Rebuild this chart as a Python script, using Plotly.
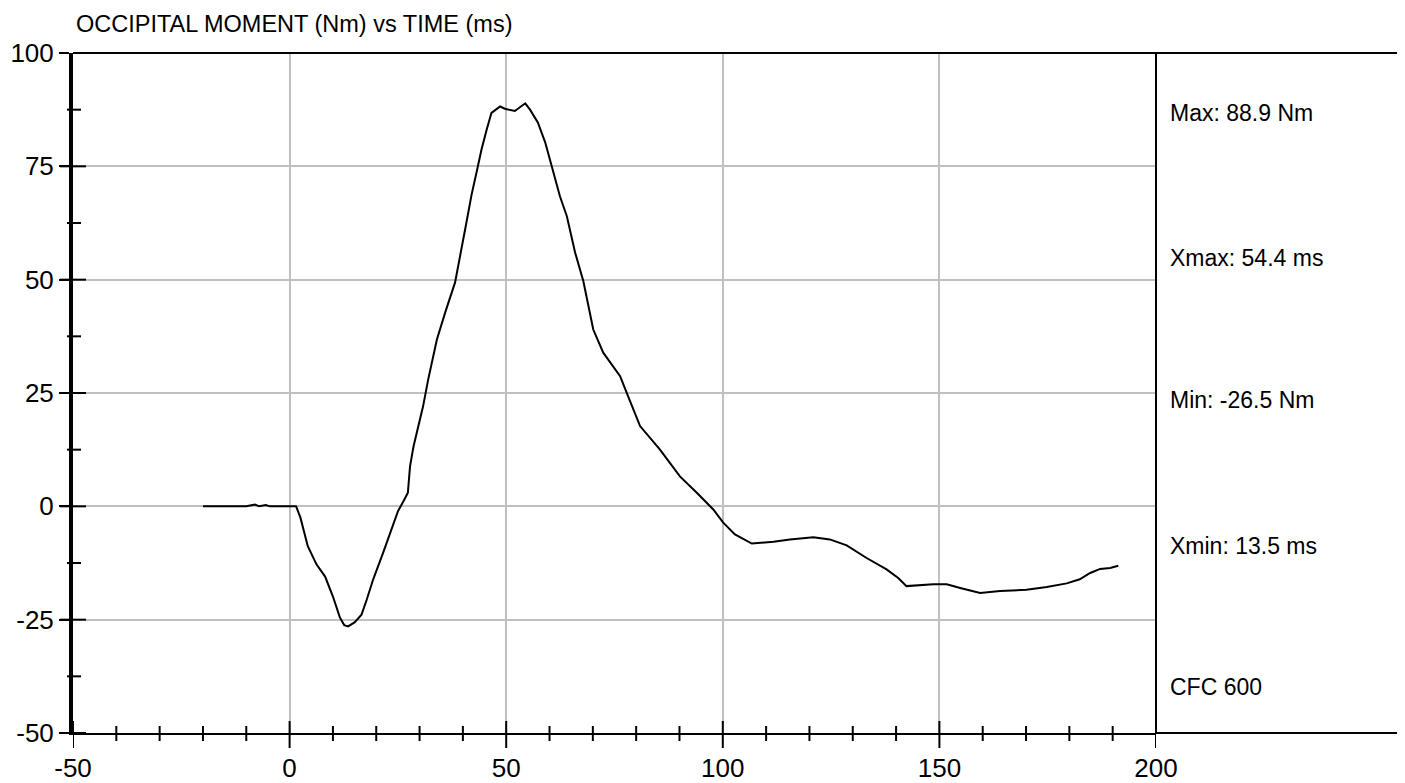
import plotly.graph_objects as go

# ---- data ----
time_ms = [-20, -10, -8, -7, -5.5, -4.5, 0, 1.5, 2.5, 4.2, 6.2, 8.2, 10, 11.6, 12.6, 13.5, 15,
           16.6, 17.8, 19.3, 21.6, 23.6, 25, 26.5, 27.3, 27.8, 28.6, 29.7, 30.8, 32,
           34, 36, 38.2, 40.7, 42, 43.3, 44.3, 45.5, 46.6, 48.6, 49.7, 52, 54.4,
           55.5, 57.3, 59, 60.5, 62.4, 64, 65.9, 67.8, 70.1, 72.4, 76.3, 77.8,
           80.9, 85.5, 90.1, 94, 97.8, 100.1, 102.8, 106.7, 111.7, 115.5, 120.9,
           124.7, 128.6, 133.2, 137.8, 140.5, 142.4, 148.6, 151.7, 154.8, 159.4,
           164, 170.1, 174.8, 179.4, 182.4, 184.8, 187.1, 189.4, 191.3]
moment_nm = [0, 0, 0.4, 0, 0.3, 0, 0, 0, -2.5, -8.8, -12.8, -15.5, -19.9, -24.5, -26.2, -26.5, -25.6,
             -23.9, -20.6, -16.1, -10.2, -5.1, -1.1, 1.5, 3.0, 8.8, 13.2, 17.6, 22.0, 28.0,
             36.8, 43, 49.4, 62, 68.7, 74.3, 78.7, 83.1, 86.8, 88.2, 87.7, 87.2, 88.9,
             87.5, 84.7, 80.3, 75.0, 68.4, 64.0, 56.0, 49.7, 39.0, 33.9, 28.7, 25.1,
             17.7, 12.5, 6.6, 3.0, -0.7, -3.6, -6.2, -8.2, -7.8, -7.3, -6.8,
             -7.3, -8.6, -11.4, -13.9, -15.8, -17.6, -17.2, -17.2, -18.0, -19.1,
             -18.7, -18.4, -17.8, -17.0, -16.1, -14.7, -13.8, -13.6, -13.1]

x_range = [-50, 200]
y_range = [-50, 100]
x_major = [-50, 0, 50, 100, 150, 200]
x_minor = [v for v in range(-40, 200, 10) if v % 50 != 0]
y_major = [-50, -25, 0, 25, 50, 75, 100]
y_minor = [-37.5, -12.5, 12.5, 37.5, 62.5, 87.5]

title_text = "OCCIPITAL MOMENT (Nm) vs TIME (ms)"
info_texts = ["Max: 88.9 Nm", "Xmax: 54.4 ms", "Min: -26.5 Nm", "Xmin: 13.5 ms", "CFC 600"]
info_ypos = [0.9125, 0.699, 0.490, 0.2757, 0.068]

NARROW = "Liberation Sans Narrow, Arial Narrow, Liberation Sans, Arial, sans-serif"
REG = "Liberation Sans, Arial, sans-serif"

fig = go.Figure()
fig.add_trace(go.Scatter(x=time_ms, y=moment_nm, mode="lines",
                         line=dict(color="black", width=2), hoverinfo="x+y",
                         showlegend=False))

shapes = []
# x ticks crossing the axis
for v in x_minor:
    shapes.append(dict(type="line", xref="x", yref="paper", ysizemode="pixel", yanchor=0,
                       x0=v, x1=v, y0=-8, y1=7, line=dict(color="black", width=2)))
for v in x_major:
    shapes.append(dict(type="line", xref="x", yref="paper", ysizemode="pixel", yanchor=0,
                       x0=v, x1=v, y0=-15, y1=12, line=dict(color="black", width=2)))
# y ticks crossing the axis
for v in y_minor:
    shapes.append(dict(type="line", xref="paper", yref="y", xsizemode="pixel", xanchor=0,
                       x0=-6, x1=8, y0=v, y1=v, line=dict(color="black", width=2)))
for v in y_major:
    shapes.append(dict(type="line", xref="paper", yref="y", xsizemode="pixel", xanchor=0,
                       x0=-13, x1=(0 if v == 100 else 13), y0=v, y1=v,
                       line=dict(color="black", width=2)))
# frame lines
shapes.append(dict(type="line", xref="paper", yref="paper", x0=0, x1=1.25, y0=1, y1=1,
                   line=dict(color="black", width=2)))
shapes.append(dict(type="line", xref="paper", yref="paper", x0=1, x1=1.25, y0=0, y1=0,
                   line=dict(color="black", width=2)))
shapes.append(dict(type="line", xref="paper", yref="paper", x0=1, x1=1, y0=0, y1=1,
                   line=dict(color="black", width=2)))

annotations = [dict(text=title_text, xref="paper", yref="paper", x=0.001, y=1.042,
                    xanchor="left", yanchor="middle", showarrow=False,
                    font=dict(family=NARROW, size=23.5, color="black"))]
for t, yp in zip(info_texts, info_ypos):
    annotations.append(dict(text=t, xref="paper", yref="paper", x=1.011, y=yp,
                            xanchor="left", yanchor="middle", showarrow=False,
                            font=dict(family=NARROW, size=23, color="black")))

fig.update_layout(
    width=1397, height=775,
    margin=dict(l=65, r=249, t=45, b=50),
    paper_bgcolor="white", plot_bgcolor="white",
    shapes=shapes, annotations=annotations,
    xaxis=dict(range=x_range, tickvals=x_major, ticktext=[str(v) for v in x_major],
               showgrid=True, gridcolor="#c0c0c0", gridwidth=2,
               showline=True, linecolor="black", linewidth=2,
               ticks="", zeroline=False, automargin=False,
               tickfont=dict(family=REG, size=26, color="black"), ticklabelstandoff=11),
    yaxis=dict(range=y_range, tickvals=y_major, ticktext=[str(v) for v in y_major],
               showgrid=True, gridcolor="#c0c0c0", gridwidth=2,
               showline=True, linecolor="black", linewidth=4,
               ticks="outside", ticklen=10, tickwidth=2, tickcolor="black",
               zeroline=False, automargin=False,
               tickfont=dict(family=REG, size=26, color="black")),
)

fig.write_html("out.html")
